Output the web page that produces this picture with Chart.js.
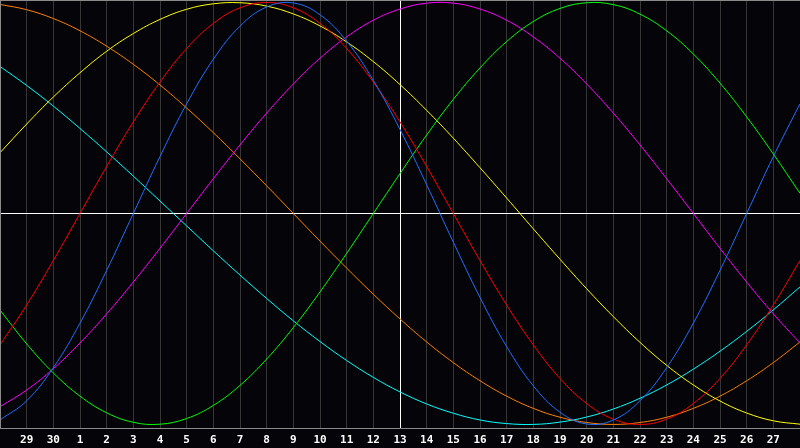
<!DOCTYPE html>
<html>
<head>
<meta charset="utf-8">
<script src="https://cdn.jsdelivr.net/npm/chart.js@4.4.0/dist/chart.umd.min.js"></script>
<style>
  html, body { margin: 0; padding: 0; background: #050409; }
  #wrap { position: relative; width: 800px; height: 448px; }
</style>
</head>
<body>
<div id="wrap"><canvas id="bio"></canvas></div>
<script>
// Biorritmo: 7 ciclos, valores em % (-100..100) lidos dia a dia do gráfico.

const DAYS = [0, 1, 2, 3, 4, 5, 6, 7, 8, 9, 10, 11, 12, 13, 14, 15, 16, 17, 18, 19, 20, 21, 22, 23, 24, 25, 26, 27, 28, 29, 30];
// rótulo de cada linha vertical (dias 1..29 do eixo)
const DAY_LABELS = ["29", "30", "1", "2", "3", "4", "5", "6", "7", "8", "9", "10", "11", "12", "13", "14", "15", "16", "17", "18", "19", "20", "21", "22", "23", "24", "25", "26", "27"];
const TODAY = 15;

const PHYSICAL = [-97.9, -88.8, -73.1, -52.0, -27.0, 0, 27.0, 52.0, 73.1, 88.8, 97.9, 99.8, 94.2, 81.7, 63.1, 39.8, 13.6, -13.6, -39.8, -63.1, -81.7, -94.2, -99.8, -97.9, -88.8, -73.1, -52.0, -27.0, 0, 27.0, 52.0];
const EMOTIONAL = [-62.3, -43.4, -22.3, 0, 22.3, 43.4, 62.3, 78.2, 90.1, 97.5, 100, 97.5, 90.1, 78.2, 62.3, 43.4, 22.3, 0, -22.3, -43.4, -62.3, -78.2, -90.1, -97.5, -100, -97.5, -90.1, -78.2, -62.3, -43.4, -22.3];
const INTELLECTUAL = [-45.8, -61.8, -75.6, -86.6, -94.5, -99.0, -99.9, -97.2, -91.0, -81.5, -69.0, -54.1, -37.2, -18.9, 0, 18.9, 37.2, 54.1, 69.0, 81.5, 91.0, 97.2, 99.9, 99.0, 94.5, 86.6, 75.6, 61.8, 45.8, 28.2, 9.5];
const INTUITIVE = [-91.6, -83.7, -73.6, -61.4, -47.6, -32.5, -16.5, 0, 16.5, 32.5, 47.6, 61.4, 73.6, 83.7, 91.6, 96.9, 99.7, 99.7, 96.9, 91.6, 83.7, 73.6, 61.4, 47.6, 32.5, 16.5, 0, -16.5, -32.5, -47.6, -61.4];
const AESTHETIC = [28.8, 42.4, 55.2, 66.7, 76.9, 85.3, 92.0, 96.8, 99.4, 99.9, 98.3, 94.6, 88.9, 81.3, 72.0, 61.1, 48.9, 35.7, 21.7, 7.3, -7.3, -21.7, -35.7, -48.9, -61.1, -72.0, -81.3, -88.9, -94.6, -98.3, -99.9];
const AWARENESS = [99.1, 96.6, 92.4, 86.6, 79.3, 70.7, 60.9, 50.0, 38.3, 25.9, 13.1, 0, -13.1, -25.9, -38.3, -50.0, -60.9, -70.7, -79.3, -86.6, -92.4, -96.6, -99.1, -100, -99.1, -96.6, -92.4, -86.6, -79.3, -70.7, -60.9];
const SPIRITUAL = [69.7, 60.7, 50.9, 40.3, 29.2, 17.7, 5.9, -5.9, -17.7, -29.2, -40.3, -50.9, -60.7, -69.7, -77.7, -84.6, -90.3, -94.7, -97.9, -99.6, -100.0, -98.9, -96.5, -92.7, -87.6, -81.3, -73.8, -65.3, -55.9, -45.7, -34.8];

const BG = "#050409";
const GRID_COLOR = "#363636";
const FRAME_COLOR = "#8a8a8a";

// fundo + moldura cinza (topo/esquerda)
const framePlugin = {
  id: "frame",
  beforeDraw(chart) {
    const { ctx, width, height } = chart;
    ctx.save();
    ctx.fillStyle = BG;
    ctx.fillRect(0, 0, width, height);
    ctx.restore();
  },
  afterDraw(chart) {
    const { ctx, chartArea: a } = chart;
    ctx.save();
    ctx.strokeStyle = FRAME_COLOR;
    ctx.lineWidth = 1;
    ctx.beginPath();
    ctx.moveTo(a.left + 0.5, a.bottom);
    ctx.lineTo(a.left + 0.5, a.top + 0.5);
    ctx.lineTo(a.right, a.top + 0.5);
    ctx.stroke();
    ctx.restore();
  },
};

function series(values, color) {
  return {
    data: DAYS.map((d, i) => ({ x: d, y: values[i] })),
    borderColor: color,
    borderWidth: 1,
    pointRadius: 0,
    pointHoverRadius: 0,
    fill: false,
    tension: 0.4,
  };
}

new Chart(document.getElementById("bio"), {
  type: "line",
  data: {
    datasets: [
      series(PHYSICAL, "#2070ff"),
      series(EMOTIONAL, "#ff0000"),
      series(INTELLECTUAL, "#00ff00"),
      series(INTUITIVE, "#ff00ff"),
      series(AESTHETIC, "#ffff00"),
      series(AWARENESS, "#ff8000"),
      series(SPIRITUAL, "#00ffff"),
    ],
  },
  plugins: [framePlugin],
  options: {
    responsive: true,
    maintainAspectRatio: false,
    animation: false,
    layout: { padding: 0, autoPadding: false },
    plugins: { legend: { display: false }, tooltip: { enabled: false } },
    scales: {
      x: {
        type: "linear",
        min: 0,
        max: 30,
        // sem folga lateral: área do gráfico ocupa os 800px
        afterFit: (s) => { s.height = 20; s.paddingLeft = 0; s.paddingRight = 0; },
        border: { color: FRAME_COLOR },
        grid: {
          drawTicks: false,
          color: (c) => {
            const v = c.tick && c.tick.value;
            if (v === TODAY) return "#ffffff";
            if (v === 0) return FRAME_COLOR;
            if (v === 30) return "transparent";
            return GRID_COLOR;
          },
        },
        ticks: {
          stepSize: 1,
          autoSkip: false,
          maxRotation: 0,
          padding: 6,
          color: "#ffffff",
          font: { family: "DejaVu Sans Mono", size: 11, weight: "bold" },
          callback: (v) => DAY_LABELS[v - 1] ?? "",
        },
      },
      y: {
        min: -101.7,
        max: 101.2,
        afterFit: (s) => { s.width = 0; },
        afterBuildTicks: (s) => { s.ticks = [{ value: 0 }]; },
        border: { display: false },
        grid: { drawTicks: false, color: "#ffffff" },
        ticks: { display: false },
      },
    },
  },
});
</script>
</body>
</html>
